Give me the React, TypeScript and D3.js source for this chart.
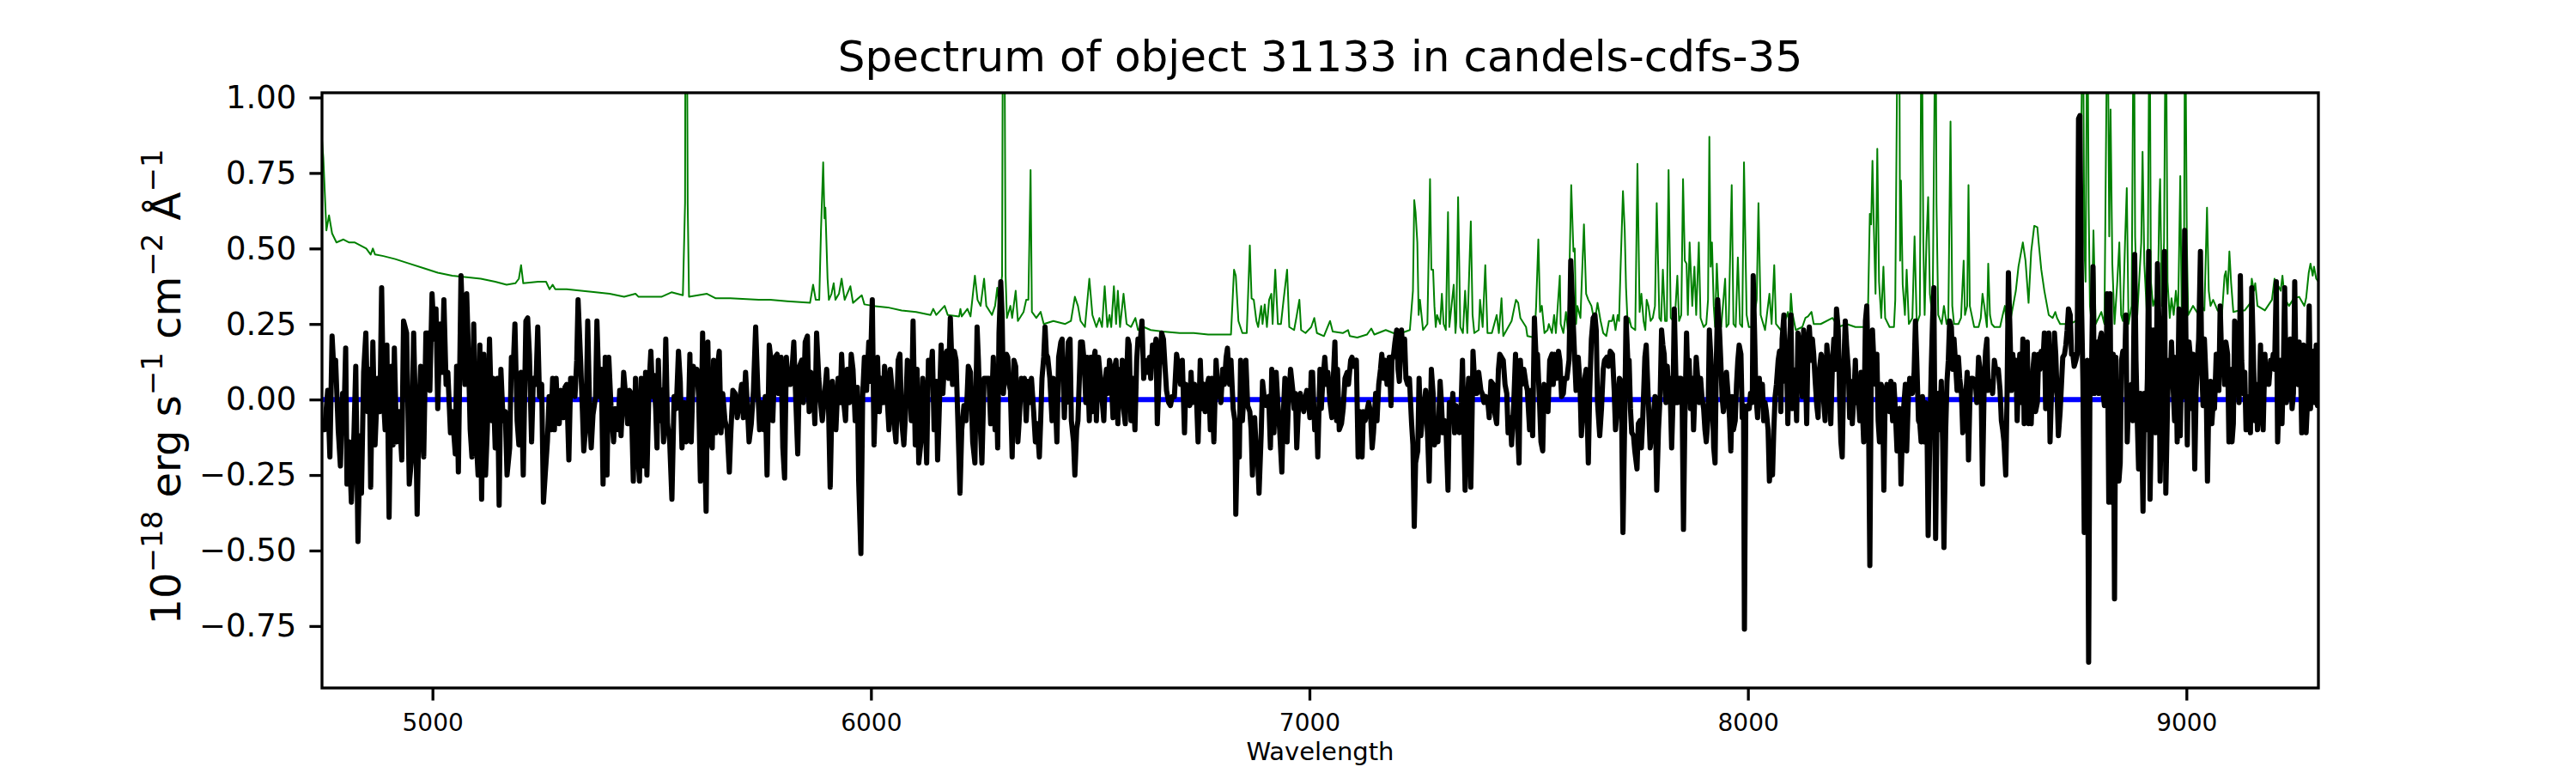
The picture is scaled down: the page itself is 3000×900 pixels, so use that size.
import React, { useEffect, useRef } from "react";
import * as d3 from "d3";

type Pt = [number, number];

const chartTitle = "Spectrum of object 31133 in candels-cdfs-35";
const xLabel = "Wavelength";
const xTicks = [5000, 6000, 7000, 8000, 9000];
const yTicks = [-0.75, -0.5, -0.25, 0, 0.25, 0.5, 0.75, 1.0];
const waveRange: [number, number] = [4748, 9301];
const fluxRange: [number, number] = [-0.955, 1.0156];

// continuum model (blue)
const model: Pt[] = [[4748, 0], [9301, 0]];

// sky / error spectrum (green)
const errorSpec: Pt[] = [
  [4748, 0.86], [4751, 0.8], [4758, 0.56], [4764, 0.61], [4771, 0.55], [4781, 0.52], [4797, 0.53], [4810, 0.52],
  [4823, 0.52], [4836, 0.51], [4849, 0.5], [4859, 0.48], [4864, 0.5], [4869, 0.48], [4888, 0.475], [4915, 0.465],
  [4947, 0.45], [4980, 0.435], [5012, 0.42], [5045, 0.41], [5078, 0.405], [5110, 0.4], [5143, 0.39], [5169, 0.38],
  [5189, 0.385], [5197, 0.4], [5202, 0.445], [5207, 0.385], [5241, 0.39], [5259, 0.39], [5267, 0.365], [5274, 0.38],
  [5280, 0.365], [5306, 0.365], [5339, 0.36], [5372, 0.355], [5404, 0.35], [5437, 0.34], [5463, 0.35], [5470, 0.34],
  [5502, 0.34], [5522, 0.34], [5545, 0.355], [5571, 0.345], [5576, 0.65], [5577, 1.4], [5580, 1.4], [5582, 0.65],
  [5585, 0.34], [5626, 0.35], [5646, 0.335], [5679, 0.335], [5744, 0.33], [5770, 0.33], [5809, 0.325], [5861, 0.32],
  [5868, 0.38], [5874, 0.33], [5882, 0.33], [5886, 0.56], [5891, 0.785], [5894, 0.6], [5896, 0.635], [5901, 0.4],
  [5904, 0.33], [5910, 0.35], [5915, 0.385], [5919, 0.33], [5927, 0.35], [5933, 0.4], [5940, 0.33], [5953, 0.375],
  [5959, 0.32], [5979, 0.345], [5985, 0.315], [6005, 0.31], [6038, 0.305], [6070, 0.295], [6103, 0.29], [6136, 0.28],
  [6142, 0.3], [6149, 0.28], [6168, 0.31], [6175, 0.28], [6201, 0.275], [6204, 0.3], [6207, 0.275], [6220, 0.3],
  [6227, 0.275], [6237, 0.41], [6243, 0.33], [6250, 0.31], [6258, 0.4], [6263, 0.31], [6276, 0.28], [6283, 0.31],
  [6288, 0.37], [6292, 0.31], [6299, 0.41], [6301, 1.4], [6304, 1.4], [6307, 0.41], [6310, 0.27], [6318, 0.31],
  [6322, 0.27], [6330, 0.36], [6335, 0.26], [6348, 0.29], [6354, 0.33], [6359, 0.33], [6364, 0.76], [6367, 0.29],
  [6377, 0.27], [6387, 0.29], [6394, 0.25], [6416, 0.26], [6443, 0.25], [6456, 0.26], [6465, 0.34], [6472, 0.31],
  [6478, 0.26], [6488, 0.24], [6498, 0.4], [6505, 0.28], [6514, 0.24], [6521, 0.27], [6527, 0.24], [6533, 0.375],
  [6539, 0.24], [6544, 0.28], [6548, 0.24], [6554, 0.375], [6559, 0.25], [6563, 0.36], [6568, 0.24], [6576, 0.35],
  [6583, 0.25], [6593, 0.24], [6603, 0.27], [6609, 0.23], [6622, 0.24], [6638, 0.23], [6665, 0.225], [6704, 0.22],
  [6736, 0.22], [6769, 0.215], [6821, 0.215], [6828, 0.43], [6832, 0.41], [6838, 0.26], [6847, 0.22], [6857, 0.22],
  [6864, 0.51], [6868, 0.335], [6873, 0.33], [6879, 0.26], [6883, 0.24], [6890, 0.31], [6893, 0.25], [6898, 0.315],
  [6903, 0.24], [6908, 0.33], [6913, 0.35], [6916, 0.25], [6922, 0.43], [6928, 0.25], [6935, 0.25], [6941, 0.33],
  [6949, 0.43], [6954, 0.24], [6965, 0.23], [6970, 0.27], [6977, 0.33], [6981, 0.23], [6991, 0.22], [7004, 0.24],
  [7011, 0.27], [7017, 0.22], [7033, 0.21], [7047, 0.26], [7053, 0.225], [7076, 0.22], [7088, 0.23], [7092, 0.21],
  [7109, 0.205], [7131, 0.215], [7141, 0.235], [7148, 0.215], [7174, 0.23], [7200, 0.215], [7229, 0.23], [7236, 0.36],
  [7239, 0.66], [7242, 0.62], [7246, 0.52], [7249, 0.28], [7252, 0.33], [7259, 0.23], [7269, 0.25], [7275, 0.73],
  [7278, 0.43], [7282, 0.43], [7285, 0.31], [7288, 0.24], [7291, 0.28], [7298, 0.25], [7302, 0.35], [7306, 0.25],
  [7311, 0.23], [7316, 0.62], [7319, 0.24], [7324, 0.31], [7329, 0.38], [7333, 0.22], [7335, 0.26], [7339, 0.67],
  [7344, 0.24], [7350, 0.22], [7355, 0.36], [7360, 0.22], [7368, 0.59], [7372, 0.28], [7376, 0.22], [7386, 0.23],
  [7389, 0.33], [7395, 0.24], [7401, 0.445], [7406, 0.22], [7416, 0.22], [7427, 0.28], [7432, 0.22], [7438, 0.335],
  [7442, 0.21], [7461, 0.26], [7468, 0.31], [7471, 0.33], [7476, 0.32], [7481, 0.27], [7494, 0.24], [7497, 0.21],
  [7513, 0.205], [7517, 0.31], [7522, 0.53], [7526, 0.29], [7530, 0.31], [7536, 0.22], [7543, 0.23], [7546, 0.25],
  [7553, 0.22], [7558, 0.28], [7562, 0.22], [7571, 0.41], [7573, 0.25], [7579, 0.22], [7585, 0.29], [7590, 0.22],
  [7597, 0.71], [7602, 0.49], [7605, 0.5], [7608, 0.25], [7611, 0.31], [7618, 0.27], [7626, 0.58], [7631, 0.35],
  [7636, 0.33], [7643, 0.31], [7647, 0.28], [7652, 0.27], [7657, 0.32], [7664, 0.26], [7670, 0.22], [7677, 0.21],
  [7683, 0.26], [7690, 0.26], [7693, 0.28], [7698, 0.23], [7703, 0.28], [7706, 0.26], [7709, 0.41], [7715, 0.69],
  [7719, 0.56], [7722, 0.37], [7726, 0.24], [7729, 0.27], [7734, 0.24], [7743, 0.23], [7748, 0.78], [7753, 0.29],
  [7757, 0.35], [7762, 0.26], [7766, 0.23], [7769, 0.33], [7773, 0.31], [7778, 0.26], [7783, 0.27], [7788, 0.31],
  [7792, 0.65], [7798, 0.27], [7802, 0.26], [7806, 0.43], [7811, 0.26], [7815, 0.26], [7819, 0.76], [7824, 0.27],
  [7830, 0.26], [7835, 0.31], [7839, 0.41], [7843, 0.26], [7848, 0.28], [7852, 0.73], [7856, 0.46], [7860, 0.45],
  [7863, 0.28], [7867, 0.52], [7873, 0.31], [7878, 0.44], [7882, 0.28], [7888, 0.52], [7892, 0.27], [7899, 0.24],
  [7905, 0.25], [7909, 0.33], [7912, 0.87], [7915, 0.44], [7918, 0.52], [7922, 0.31], [7925, 0.24], [7929, 0.45],
  [7935, 0.25], [7939, 0.24], [7948, 0.4], [7951, 0.24], [7956, 0.25], [7963, 0.71], [7967, 0.25], [7972, 0.24],
  [7977, 0.47], [7982, 0.25], [7987, 0.24], [7991, 0.785], [7997, 0.28], [8002, 0.24], [8011, 0.24], [8020, 0.33],
  [8024, 0.65], [8029, 0.28], [8039, 0.23], [8049, 0.35], [8054, 0.25], [8060, 0.445], [8064, 0.25], [8075, 0.23],
  [8087, 0.27], [8091, 0.29], [8095, 0.24], [8098, 0.35], [8101, 0.29], [8109, 0.23], [8124, 0.24], [8131, 0.27],
  [8137, 0.275], [8145, 0.29], [8150, 0.25], [8166, 0.25], [8193, 0.27], [8206, 0.24], [8225, 0.25], [8245, 0.24],
  [8268, 0.24], [8274, 0.31], [8278, 0.615], [8281, 0.58], [8284, 0.79], [8287, 0.58], [8291, 0.35], [8295, 0.83],
  [8299, 0.39], [8304, 0.27], [8309, 0.44], [8313, 0.27], [8323, 0.24], [8333, 0.24], [8336, 0.33], [8342, 1.4],
  [8345, 1.4], [8347, 0.46], [8349, 0.725], [8353, 0.38], [8358, 0.28], [8362, 0.43], [8367, 0.25], [8375, 0.27],
  [8380, 0.54], [8385, 0.25], [8392, 0.28], [8396, 1.4], [8400, 0.52], [8403, 0.28], [8407, 0.52], [8411, 0.67],
  [8415, 0.35], [8421, 0.27], [8428, 1.4], [8430, 0.65], [8434, 0.28], [8442, 0.25], [8447, 0.31], [8453, 0.25],
  [8457, 0.27], [8462, 0.92], [8466, 0.31], [8470, 0.25], [8480, 0.25], [8486, 0.27], [8492, 0.46], [8495, 0.28],
  [8500, 0.31], [8503, 0.71], [8506, 0.31], [8516, 0.24], [8526, 0.24], [8531, 0.27], [8535, 0.35], [8539, 0.31],
  [8545, 0.24], [8548, 0.45], [8552, 0.28], [8556, 0.25], [8562, 0.24], [8575, 0.24], [8581, 0.28], [8586, 0.31],
  [8590, 0.25], [8597, 0.25], [8611, 0.36], [8617, 0.44], [8627, 0.52], [8633, 0.46], [8640, 0.32], [8646, 0.49],
  [8653, 0.575], [8660, 0.57], [8663, 0.52], [8669, 0.43], [8676, 0.36], [8686, 0.28], [8695, 0.27], [8701, 0.29],
  [8705, 0.27], [8712, 0.25], [8735, 0.25], [8748, 0.26], [8754, 0.3], [8759, 0.71], [8764, 1.4], [8767, 0.52],
  [8770, 0.39], [8774, 1.4], [8777, 0.65], [8780, 0.31], [8784, 0.25], [8788, 0.56], [8793, 0.25], [8806, 0.29],
  [8813, 0.25], [8820, 1.4], [8824, 0.54], [8827, 0.96], [8831, 0.45], [8836, 0.25], [8842, 0.38], [8847, 0.52],
  [8851, 0.28], [8855, 0.26], [8860, 0.52], [8864, 0.7], [8868, 0.25], [8875, 0.31], [8880, 1.4], [8883, 0.54],
  [8888, 0.28], [8897, 0.52], [8900, 0.82], [8904, 0.45], [8911, 0.25], [8916, 1.4], [8919, 0.39], [8924, 0.31],
  [8929, 0.335], [8934, 0.25], [8938, 0.64], [8940, 0.73], [8944, 0.31], [8949, 0.52], [8953, 1.4], [8957, 0.39],
  [8962, 0.27], [8966, 0.335], [8971, 0.28], [8976, 0.36], [8981, 0.28], [8986, 0.74], [8989, 0.31], [8994, 0.25],
  [8997, 1.4], [9001, 0.52], [9004, 0.28], [9015, 0.31], [9028, 0.28], [9035, 0.31], [9041, 0.295], [9047, 0.635],
  [9051, 0.36], [9055, 0.31], [9061, 0.33], [9071, 0.295], [9081, 0.28], [9087, 0.41], [9090, 0.425], [9094, 0.35],
  [9098, 0.49], [9102, 0.385], [9107, 0.29], [9120, 0.295], [9133, 0.295], [9146, 0.32], [9149, 0.4], [9154, 0.36],
  [9157, 0.385], [9162, 0.31], [9179, 0.295], [9195, 0.33], [9201, 0.4], [9205, 0.345], [9210, 0.375], [9215, 0.36],
  [9219, 0.41], [9224, 0.335], [9234, 0.31], [9245, 0.335], [9257, 0.34], [9269, 0.31], [9273, 0.335], [9279, 0.42],
  [9283, 0.45], [9288, 0.41], [9291, 0.44], [9296, 0.4], [9301, 0.39],
];

// observed flux (black)
const spectrum: Pt[] = [
  [4748, -0.1], [4754, -0.1], [4761, 0.03], [4766, -0.19], [4771, 0.21], [4776, 0.07], [4779, 0.13], [4785, -0.1],
  [4790, -0.22], [4795, 0.02], [4798, -0.07], [4802, 0.17], [4805, -0.28], [4810, -0.14], [4815, -0.34], [4821, -0.11],
  [4825, 0.11], [4830, -0.47], [4835, -0.12], [4838, -0.31], [4843, 0.09], [4848, 0.22], [4852, -0.04], [4856, 0.1],
  [4859, -0.29], [4864, 0.19], [4869, -0.15], [4875, 0.07], [4880, -0.04], [4884, 0.37], [4888, 0.01], [4892, -0.1],
  [4896, 0.18], [4901, -0.39], [4906, 0.11], [4910, -0.15], [4913, 0.17], [4918, -0.14], [4924, -0.04], [4930, -0.2],
  [4934, 0.26], [4941, 0.22], [4947, -0.28], [4952, -0.2], [4957, 0.22], [4962, -0.1], [4965, -0.38], [4970, -0.01],
  [4973, 0.11], [4980, -0.19], [4985, 0.22], [4990, 0.22], [4994, 0.03], [4999, 0.35], [5004, 0.2], [5008, 0.3],
  [5012, -0.03], [5017, 0.25], [5022, 0.09], [5026, 0.33], [5031, 0.05], [5035, 0.09], [5041, -0.11], [5045, -0.04],
  [5052, -0.18], [5055, 0.11], [5059, -0.24], [5065, 0.41], [5069, 0.24], [5074, 0.05], [5078, 0.35], [5081, 0.2],
  [5086, -0.1], [5090, -0.19], [5094, 0.25], [5099, -0.11], [5104, -0.25], [5108, 0.18], [5112, -0.33], [5117, 0.15],
  [5121, -0.25], [5125, -0.1], [5130, 0.2], [5135, -0.07], [5138, 0.07], [5143, -0.16], [5148, 0.07], [5152, -0.35],
  [5156, 0.1], [5161, -0.07], [5166, -0.04], [5170, -0.25], [5176, -0.16], [5180, 0.14], [5184, 0.1], [5188, 0.25],
  [5193, -0.07], [5197, -0.15], [5202, 0.09], [5207, -0.25], [5213, 0.26], [5217, 0.27], [5221, 0.15], [5226, -0.14],
  [5230, 0.07], [5236, 0.05], [5240, 0.24], [5244, 0.01], [5249, 0.05], [5253, -0.34], [5257, -0.25], [5262, -0.14],
  [5266, 0.01], [5270, -0.1], [5274, 0.07], [5278, -0.1], [5282, 0.07], [5285, -0.03], [5289, -0.08], [5293, 0.03],
  [5298, -0.06], [5302, 0.04], [5306, 0.05], [5311, -0.2], [5315, 0.07], [5319, 0.07], [5325, 0.01], [5329, 0.13],
  [5332, 0.33], [5338, 0.12], [5342, -0.04], [5345, -0.17], [5350, -0.08], [5354, 0.26], [5359, -0.08], [5362, -0.16],
  [5366, -0.05], [5372, 0.01], [5375, 0.26], [5380, 0.01], [5385, 0.1], [5389, -0.28], [5394, 0.14], [5398, -0.25],
  [5402, 0.14], [5407, -0.02], [5413, -0.14], [5417, -0.03], [5423, -0.1], [5427, 0.03], [5430, -0.12], [5436, 0.09],
  [5440, 0.02], [5445, -0.08], [5449, 0.03], [5453, 0.02], [5458, -0.27], [5463, 0.07], [5468, -0.17], [5472, -0.27],
  [5476, 0.07], [5481, -0.22], [5486, 0.09], [5489, -0.25], [5494, 0.05], [5498, 0.16],
  [5502, 0.01], [5505, 0.08], [5509, -0.03], [5512, -0.16], [5515, 0.13], [5519, -0.07], [5523, 0.03], [5527, -0.14],
  [5532, 0.2], [5536, -0.08], [5541, -0.14], [5546, -0.33], [5551, 0.01], [5556, -0.03], [5561, 0.16], [5565, 0.06],
  [5569, -0.16], [5574, -0.01], [5579, -0.14], [5583, -0.1], [5587, 0.15], [5590, -0.14], [5595, 0.11], [5599, 0.07],
  [5603, 0.1], [5607, 0.01], [5611, -0.27], [5616, 0.22], [5620, -0.1], [5624, -0.37], [5628, 0.19], [5632, -0.15],
  [5634, -0.08], [5638, -0.16], [5641, 0.13], [5646, -0.11], [5650, 0.11], [5654, 0.16], [5658, -0.11], [5662, 0.02],
  [5667, -0.07], [5672, -0.1], [5677, -0.24], [5680, -0.12], [5685, 0.03], [5690, 0.02], [5695, -0.06], [5700, -0.01],
  [5705, 0.05], [5709, -0.06], [5714, 0.09], [5718, -0.02], [5722, -0.14], [5727, -0.08], [5732, 0.03], [5737, 0.24],
  [5742, 0.03], [5746, -0.1], [5750, -0.01], [5755, -0.1], [5759, 0.01], [5763, -0.25], [5768, 0.18], [5772, 0.13],
  [5776, -0.07], [5781, 0.14], [5786, 0.15], [5789, 0.02], [5795, 0.14], [5799, -0.16], [5803, -0.26], [5807, 0.14],
  [5811, 0.05], [5816, 0.05], [5820, 0.1], [5824, 0.19], [5829, -0.02], [5833, -0.18], [5837, 0.11], [5842, 0.13],
  [5846, -0.01], [5850, 0.19], [5855, 0.21], [5859, -0.04], [5863, 0.09], [5868, 0.05], [5872, -0.08], [5876, 0.22],
  [5881, 0.07], [5885, -0.01], [5889, -0.07], [5894, 0.01], [5899, 0.1], [5903, -0.01], [5907, -0.29], [5912, 0.06],
  [5916, -0.04], [5920, -0.1], [5925, 0.07], [5930, -0.01], [5933, 0.15], [5938, -0.01], [5942, -0.07], [5946, 0.1],
  [5951, -0.01], [5955, 0.15], [5959, 0.1], [5964, -0.07], [5969, 0.04], [5972, -0.27], [5977, -0.51], [5981, 0.01],
  [5985, 0.14], [5990, 0.03], [5995, 0.19], [5998, 0.06], [6003, 0.33], [6007, -0.15], [6012, 0.1], [6015, 0.14],
  [6019, -0.04], [6023, 0.07], [6028, -0.01], [6031, 0.11], [6036, 0.03], [6041, -0.1], [6044, 0.1], [6049, 0.02],
  [6053, -0.08], [6057, -0.14], [6062, 0.13], [6066, 0.15], [6070, -0.07], [6075, -0.15], [6079, -0.04], [6083, 0.13],
  [6088, 0.11], [6092, -0.07], [6096, 0.26], [6101, -0.15], [6105, 0.1], [6109, -0.21], [6114, -0.14], [6118, 0.07],
  [6123, -0.02], [6127, -0.21], [6131, 0.13], [6136, 0.09], [6140, 0.16], [6144, -0.1], [6149, 0.06], [6152, -0.2],
  [6155, -0.07], [6160, 0.18], [6164, 0.02], [6168, 0.14], [6173, 0.16], [6177, 0.07], [6181, 0.27], [6186, 0.05],
  [6190, 0.16], [6194, 0.13], [6199, -0.11], [6203, -0.31], [6207, -0.1], [6212, -0.02], [6217, -0.07], [6222, 0.11],
  [6227, 0.09], [6232, -0.14], [6237, -0.21], [6242, 0.24], [6245, 0.13], [6250, -0.11], [6253, -0.21], [6258, 0.07],
  [6265, 0.07], [6269, 0.07], [6273, -0.08], [6276, 0.01], [6279, 0.14], [6283, -0.1], [6286, 0.03], [6289, -0.16],
  [6292, 0.22], [6296, 0.39], [6299, 0.28], [6302, 0.02], [6305, 0.1], [6309, 0.15], [6312, 0.14], [6315, 0.05],
  [6318, 0.03], [6322, -0.19], [6326, 0.13], [6330, 0.11], [6335, -0.14], [6338, -0.07], [6343, 0.07], [6347, 0.05],
  [6350, 0.07], [6354, -0.07], [6358, 0.06], [6362, -0.01], [6366, 0.07], [6371, -0.04], [6375, -0.14], [6379, -0.08],
  [6384, -0.19], [6387, -0.07], [6390, 0.07], [6394, 0.14], [6397, 0.24], [6400, 0.15], [6403, 0.14], [6408, 0.07],
  [6413, -0.07], [6416, 0.07], [6420, 0.02], [6424, -0.14], [6428, 0.14], [6433, 0.19], [6436, 0.2], [6441, -0.06],
  [6443, 0.02], [6446, -0.01], [6450, 0.19], [6454, 0.2], [6457, -0.07], [6462, -0.14], [6465, -0.25], [6469, -0.1],
  [6472, -0.07], [6475, 0.06], [6478, 0.19], [6482, 0.19], [6486, 0.13], [6490, -0.01], [6493, 0.14], [6498, -0.07],
  [6501, 0.14], [6505, -0.04], [6508, 0.13], [6511, 0.16], [6514, -0.07], [6519, 0.14], [6522, 0.09], [6526, 0.02],
  [6531, -0.07], [6534, 0.06], [6537, 0.1], [6540, 0.02], [6544, 0.13], [6547, 0.1], [6552, -0.06], [6555, 0.1],
  [6559, 0.13], [6563, -0.08], [6567, 0.1], [6570, -0.01], [6573, 0.13], [6576, -0.03], [6580, -0.08], [6583, 0.07],
  [6586, 0.2], [6589, 0.18], [6593, -0.07], [6597, 0.07], [6602, -0.1], [6606, 0.13], [6609, 0.2], [6614, 0.19],
  [6618, 0.26], [6622, 0.07], [6625, 0.13], [6630, 0.09], [6635, 0.14], [6638, 0.07], [6642, 0.18], [6646, 0.15],
  [6650, 0.2], [6653, -0.08], [6658, 0.11], [6663, 0.22], [6667, 0.2], [6671, 0.1], [6674, 0.03], [6679, -0.01],
  [6683, -0.02], [6687, 0.01], [6692, 0.01], [6697, 0.15], [6702, 0.1], [6706, 0.05], [6710, 0.13], [6715, -0.11],
  [6718, 0.05], [6721, 0.01], [6727, -0.02], [6730, 0.09], [6733, -0.01], [6738, 0.05], [6743, -0.02], [6746, -0.14],
  [6751, 0.13], [6755, -0.03], [6759, 0.05], [6762, -0.04], [6767, 0.05], [6770, 0.07], [6774, -0.1], [6777, 0.07],
  [6782, -0.14], [6787, 0.13], [6792, 0.01], [6795, 0.05], [6798, -0.01], [6802, 0.1], [6806, 0.05], [6810, 0.14],
  [6813, 0.17], [6818, 0.05], [6821, 0.13], [6826, -0.03], [6830, -0.07], [6832, -0.38], [6836, -0.1], [6840, -0.19],
  [6843, 0.13], [6847, -0.07], [6852, 0.05], [6855, 0.13], [6859, -0.02], [6864, -0.04], [6867, -0.1], [6870, -0.25],
  [6875, -0.06], [6878, -0.15], [6882, -0.2], [6885, -0.31], [6890, -0.11], [6893, 0.06], [6898, -0.01], [6901, -0.02],
  [6904, -0.02], [6907, 0.01], [6911, -0.16], [6914, 0.1], [6919, -0.11], [6924, 0.09], [6929, -0.04], [6932, -0.1],
  [6937, -0.24], [6940, -0.06], [6944, 0.07], [6949, -0.14], [6952, -0.01], [6957, 0.1], [6962, 0.03], [6965, -0.03],
  [6968, 0.02], [6971, -0.16], [6976, 0.01], [6979, 0.02], [6983, -0.01], [6987, -0.04], [6991, 0.01], [6994, 0.03],
  [6998, -0.01], [7001, -0.06], [7004, 0.09], [7007, 0.09], [7012, -0.1], [7016, -0.04], [7019, -0.19], [7024, 0.1],
  [7027, -0.03], [7030, 0.05], [7035, 0.14], [7039, 0.05], [7042, 0.09], [7047, -0.01], [7051, -0.06], [7055, 0.09],
  [7058, 0.19], [7062, -0.07], [7064, 0.1], [7068, -0.1], [7073, -0.08], [7077, -0.03], [7081, 0.07], [7086, 0.09],
  [7089, 0.05], [7094, 0.13], [7097, 0.14], [7102, 0.11], [7107, 0.13], [7111, -0.19], [7115, -0.04], [7120, -0.19],
  [7123, -0.04], [7127, -0.07], [7131, -0.04], [7135, -0.01], [7139, -0.04], [7143, -0.16], [7146, -0.11], [7151, 0.02],
  [7154, -0.07], [7158, 0.05], [7162, 0.1], [7165, 0.15], [7169, 0.07], [7173, 0.13], [7177, 0.05], [7182, 0.14],
  [7186, -0.02], [7188, 0.13], [7192, 0.15], [7195, 0.19], [7199, 0.23], [7202, 0.1], [7205, 0.06], [7210, 0.23],
  [7213, 0.14], [7217, 0.2], [7220, 0.07], [7224, 0.05], [7228, 0.07], [7233, -0.08], [7236, -0.15], [7239, -0.42],
  [7242, -0.21], [7247, -0.17], [7250, 0.07], [7254, -0.12], [7257, -0.07], [7262, -0.01], [7265, 0.03], [7270, -0.14],
  [7273, -0.27], [7278, 0.1], [7282, 0.02], [7285, -0.15], [7288, -0.1], [7293, -0.14], [7298, 0.06], [7301, -0.01],
  [7304, -0.11], [7308, -0.07], [7311, -0.08], [7316, -0.3], [7319, -0.01], [7323, -0.06], [7327, 0.02], [7331, -0.11],
  [7334, -0.02], [7338, -0.06], [7342, -0.11], [7346, -0.01], [7349, 0.13], [7351, -0.02], [7355, -0.3], [7359, -0.04],
  [7363, 0.07], [7368, -0.29], [7371, -0.04], [7373, 0.16], [7378, 0.02], [7382, 0.02], [7386, 0.09], [7391, 0.03],
  [7394, 0.02], [7398, -0.01], [7402, 0.01], [7407, -0.01], [7410, -0.06], [7414, 0.06], [7419, 0.05], [7422, -0.04],
  [7427, -0.08], [7431, 0.1], [7434, 0.15], [7438, 0.14], [7442, 0.13], [7446, 0.05], [7450, 0.02], [7453, -0.11],
  [7458, -0.06], [7461, -0.15], [7466, -0.01], [7470, 0.15], [7474, -0.07], [7478, -0.21], [7481, 0.13], [7484, 0.05],
  [7489, 0.1], [7494, 0.05], [7497, 0.03], [7502, -0.1], [7505, 0.03], [7509, -0.12], [7513, 0.27], [7517, 0.13],
  [7520, 0.15], [7525, -0.02], [7528, -0.14], [7532, -0.17], [7535, 0.05], [7540, 0.03], [7544, -0.04], [7548, 0.13],
  [7553, 0.15], [7556, 0.05], [7559, 0.15], [7564, 0.07], [7568, 0.16], [7571, 0.13], [7575, 0.01], [7579, 0.02],
  [7582, 0.07], [7587, 0.07], [7592, 0.13], [7596, 0.46], [7600, 0.31], [7605, 0.13], [7608, 0.03], [7613, 0.14],
  [7617, 0.05], [7620, -0.12], [7624, -0.03], [7628, 0.07], [7631, 0.1], [7636, -0.21], [7639, 0.02], [7643, 0.2],
  [7647, 0.27], [7651, 0.28], [7654, 0.23], [7657, -0.01], [7662, -0.12], [7666, -0.03], [7670, 0.1], [7673, 0.13],
  [7678, 0.14], [7682, 0.11], [7686, 0.16], [7691, 0.15], [7695, 0.03], [7698, -0.1], [7703, -0.01], [7707, 0.07],
  [7711, 0.06], [7715, -0.44], [7719, -0.06], [7722, 0.27], [7726, 0.13], [7729, 0.13], [7732, -0.03], [7735, -0.11],
  [7739, -0.12], [7742, -0.17], [7747, -0.23], [7750, -0.08], [7754, -0.07], [7757, -0.16], [7760, -0.07], [7765, 0.14],
  [7768, 0.18], [7773, -0.01], [7777, -0.16], [7781, -0.11], [7784, -0.06], [7788, 0.01],
  [7792, -0.3], [7796, -0.1], [7800, 0.02], [7803, 0.23], [7806, 0.18], [7809, 0.15], [7813, -0.01], [7816, 0.11],
  [7819, 0.03], [7822, 0.07], [7826, -0.16], [7829, -0.01], [7832, 0.3], [7837, -0.01], [7840, -0.01], [7843, 0.07],
  [7847, 0.07], [7850, -0.01], [7853, -0.43], [7856, -0.08], [7860, 0.22], [7863, 0.06], [7866, 0.13], [7869, -0.03],
  [7873, 0.07], [7876, -0.1], [7879, 0.02], [7882, 0.14], [7886, 0.06], [7889, -0.01], [7892, 0.07], [7895, 0.01],
  [7899, -0.03], [7902, -0.1], [7905, -0.14], [7909, -0.06], [7912, 0.23], [7915, 0.15], [7918, 0.05], [7922, -0.16],
  [7925, -0.21], [7928, 0.13], [7931, 0.33], [7935, 0.23], [7938, 0.13], [7941, 0.01], [7944, -0.04], [7948, 0.02],
  [7951, 0.09], [7954, 0.03], [7958, -0.06], [7961, -0.17], [7964, 0.01], [7967, -0.1], [7971, -0.07], [7974, 0.05],
  [7977, 0.13], [7980, 0.18], [7984, 0.15], [7987, -0.06], [7990, -0.02], [7992, -0.76], [7995, -0.04], [8000, -0.02],
  [8003, -0.03], [8006, 0.02], [8010, -0.01], [8012, 0.41], [8015, 0.23], [8018, 0.02], [8022, -0.06], [8026, 0.07],
  [8029, -0.01], [8033, 0.05], [8036, -0.07], [8039, -0.01], [8042, -0.04], [8046, -0.1], [8049, -0.27], [8052, -0.2],
  [8056, -0.25], [8059, -0.1], [8062, 0.01], [8065, 0.05], [8069, 0.13], [8072, 0.16], [8075, -0.04], [8078, 0.2],
  [8082, 0.28], [8085, 0.06], [8088, 0.13], [8091, -0.08], [8095, 0.2], [8098, 0.28], [8101, -0.03], [8104, 0.1],
  [8108, 0.07], [8111, -0.07], [8114, 0.22], [8118, 0.18], [8121, 0.14], [8124, 0.01], [8127, 0.23], [8131, 0.11],
  [8134, -0.08], [8137, 0.18], [8140, 0.24], [8144, 0.13], [8147, 0.2], [8150, 0.15], [8153, 0.07], [8157, -0.02],
  [8160, -0.06], [8163, 0.1], [8167, 0.15], [8170, 0.13], [8173, -0.01], [8176, -0.07], [8180, 0.18], [8183, 0.13],
  [8186, 0.05], [8189, -0.08], [8193, 0.13], [8196, 0.2], [8199, 0.1], [8202, 0.3], [8206, 0.23], [8209, 0.01],
  [8212, -0.14], [8215, -0.19], [8219, 0.13], [8222, 0.26], [8225, 0.18], [8229, 0.1], [8232, -0.06], [8235, 0.06],
  [8238, -0.08], [8242, 0.02], [8245, 0.13], [8248, -0.01], [8251, 0.03], [8255, -0.07], [8258, 0.09], [8261, -0.03],
  [8264, -0.14], [8268, 0.26], [8271, 0.31], [8274, 0.13], [8278, -0.55], [8281, 0.05], [8284, 0.23], [8287, 0.13],
  [8291, 0.05], [8294, 0.15], [8297, -0.07], [8300, -0.14], [8304, 0.05], [8307, 0.02], [8310, -0.3], [8313, 0.02],
  [8317, 0.05], [8320, 0.01], [8323, -0.04], [8326, 0.06], [8330, -0.07], [8333, 0.05], [8336, -0.03], [8340, -0.17],
  [8343, -0.04], [8346, -0.03], [8349, -0.28], [8353, -0.07], [8356, -0.01], [8359, 0.05], [8362, -0.17], [8366, 0.01],
  [8369, 0.07], [8372, 0.03], [8375, 0.02], [8379, 0.09], [8382, 0.26], [8385, 0.13], [8389, -0.07], [8392, -0.08],
  [8395, -0.14], [8398, 0.01], [8402, -0.14], [8405, -0.01], [8408, -0.03], [8411, -0.45], [8415, -0.1], [8418, 0.1],
  [8421, 0.26], [8424, 0.37], [8428, -0.46], [8431, -0.07], [8434, 0.02], [8437, -0.1], [8441, 0.06], [8444, -0.14],
  [8447, -0.49], [8451, -0.1], [8454, 0.06], [8457, 0.13], [8460, 0.26], [8464, 0.24], [8467, 0.1], [8470, 0.2],
  [8473, 0.13], [8477, 0.03], [8480, 0.14], [8483, 0.07], [8487, 0.02], [8490, -0.11], [8493, -0.08], [8496, -0.01],
  [8500, 0.09], [8503, -0.2], [8506, -0.01], [8509, 0.07], [8513, 0.07], [8516, 0.06], [8519, 0.05], [8522, -0.01],
  [8526, 0.14], [8529, 0.1], [8532, 0.02], [8535, -0.28], [8539, 0.07], [8542, 0.16], [8545, 0.2], [8548, 0.03],
  [8552, 0.05], [8555, 0.06], [8558, 0.02], [8562, 0.13], [8565, 0.1], [8568, 0.09], [8571, 0.1], [8575, 0.03],
  [8578, -0.07], [8581, -0.1], [8584, -0.14], [8588, -0.25], [8591, 0.02], [8594, 0.42], [8597, 0.26], [8601, 0.03],
  [8604, 0.15], [8607, 0.1], [8611, 0.13], [8614, -0.07], [8617, 0.06], [8620, 0.15], [8624, -0.01], [8627, 0.2],
  [8630, -0.08], [8633, 0.13], [8637, 0.19], [8640, -0.08], [8643, -0.02], [8646, -0.08], [8650, 0.1], [8653, 0.15],
  [8656, -0.04], [8660, -0.01], [8663, 0.15], [8666, 0.1], [8669, 0.16], [8673, 0.13], [8676, 0.22], [8679, -0.03],
  [8682, 0.07], [8686, 0.22], [8689, -0.14], [8692, 0.01], [8695, 0.05], [8699, 0.22], [8702, 0.15], [8705, 0.02],
  [8708, -0.12], [8712, -0.04], [8715, 0.05], [8718, 0.14], [8722, 0.15], [8725, 0.18], [8728, 0.23], [8731, 0.3],
  [8735, 0.28], [8738, 0.15], [8741, 0.15], [8744, 0.11], [8748, 0.13], [8751, 0.15], [8754, 0.93], [8757, 0.94],
  [8761, 0.3], [8764, 0.06], [8767, -0.44], [8770, 0.09], [8774, 0.13], [8777, -0.87], [8780, 0.07], [8784, 0.13],
  [8787, 0.44], [8790, 0.02], [8793, 0.18], [8797, 0.19], [8800, 0.02], [8803, 0.2], [8806, 0.22], [8810, 0.02],
  [8813, -0.02], [8816, -0.01], [8819, 0.35], [8823, -0.34], [8826, 0.35], [8829, -0.34], [8833, 0.15], [8836, -0.66],
  [8839, 0.14], [8842, -0.21], [8846, -0.27], [8849, -0.21], [8852, 0.13], [8855, 0.16], [8859, 0.1], [8862, 0.28],
  [8865, -0.14], [8868, -0.01], [8872, -0.03], [8875, 0.05], [8878, -0.07], [8882, 0.48], [8885, 0.13], [8888, -0.07],
  [8891, -0.23], [8895, 0.02], [8898, -0.11], [8901, -0.37], [8904, 0.02], [8908, -0.1], [8911, 0.07], [8914, 0.49],
  [8917, -0.33], [8921, -0.01], [8924, 0.23], [8927, 0.05], [8930, -0.11], [8934, 0.45], [8937, 0.27], [8940, -0.27],
  [8944, 0.05], [8947, -0.01], [8950, 0.49], [8953, -0.31], [8957, -0.01], [8960, 0.13], [8963, 0.05], [8966, 0.19],
  [8970, 0.03], [8973, -0.07], [8976, 0.14], [8979, -0.14], [8983, 0.3], [8986, -0.12], [8989, 0.13], [8993, 0.01],
  [8996, 0.56], [8999, 0.19], [9002, -0.15], [9006, 0.19], [9009, 0.14], [9012, -0.03], [9015, 0.15], [9019, -0.23],
  [9022, 0.02], [9025, 0.13], [9028, 0.2], [9032, 0.49], [9035, 0.1], [9038, -0.02], [9041, 0.2], [9045, 0.06],
  [9048, -0.27], [9051, -0.01], [9055, 0.06], [9058, -0.08], [9061, -0.01], [9064, -0.03], [9068, 0.15], [9071, 0.1],
  [9074, 0.03], [9077, 0.31], [9081, 0.1], [9084, 0.15], [9087, 0.05], [9090, 0.19], [9094, 0.15], [9097, -0.14],
  [9100, 0.1], [9104, -0.14], [9107, -0.08], [9110, 0.26], [9113, 0.23], [9117, 0.13], [9120, -0.01], [9123, 0.41],
  [9126, 0.13], [9130, 0.02], [9133, 0.09], [9136, -0.1], [9139, 0.01], [9143, -0.01], [9146, -0.11], [9149, 0.37],
  [9153, 0.13], [9156, -0.07], [9159, 0.05], [9162, -0.1], [9166, -0.01], [9169, 0.18], [9172, -0.01], [9175, -0.1],
  [9179, 0.15], [9182, 0.05], [9185, 0.07], [9188, 0.05], [9192, 0.13], [9195, 0.11], [9198, 0.15], [9201, 0.1],
  [9205, 0.39], [9208, -0.14], [9211, -0.01], [9214, 0.13], [9218, -0.08], [9221, 0.09], [9224, 0.37], [9228, -0.01],
  [9231, 0.03], [9234, 0.13], [9237, 0.2], [9241, -0.03], [9244, 0.02], [9247, 0.39], [9250, 0.06], [9254, 0.05],
  [9257, 0.19], [9260, 0.13], [9263, -0.11], [9267, 0.18], [9270, -0.08], [9273, -0.11], [9276, -0.01], [9280, 0.31],
  [9283, -0.03], [9286, 0.15], [9290, 0.16], [9293, -0.01], [9296, 0.18], [9299, -0.02], [9301, 0.16],
];

const SpectrumChart: React.FC = () => {
  const svgRef = useRef<SVGSVGElement>(null);

  useEffect(() => {
    if (!svgRef.current) return;

    const width = 3000;
    const height = 900;
    const margin = { top: 108, right: 300, bottom: 99, left: 375 };
    const font = "DejaVu Sans, sans-serif";

    const x = d3
      .scaleLinear()
      .domain(waveRange)
      .range([margin.left, width - margin.right]);
    const y = d3
      .scaleLinear()
      .domain(fluxRange)
      .range([height - margin.bottom, margin.top]);

    const line = d3
      .line<Pt>()
      .x((d) => x(d[0]))
      .y((d) => y(d[1]));

    const svg = d3.select(svgRef.current).attr("width", width).attr("height", height);
    svg.selectAll("*").remove();

    svg.append("rect").attr("width", width).attr("height", height).attr("fill", "#fff");

    svg
      .append("clipPath")
      .attr("id", "plot-clip")
      .append("rect")
      .attr("x", margin.left)
      .attr("y", margin.top)
      .attr("width", width - margin.left - margin.right)
      .attr("height", height - margin.top - margin.bottom);

    const plot = svg.append("g").attr("clip-path", "url(#plot-clip)");

    plot
      .append("path")
      .datum(errorSpec)
      .attr("fill", "none")
      .attr("stroke", "#008000")
      .attr("stroke-width", 2)
      .attr("stroke-linejoin", "round")
      .attr("d", line);

    plot
      .append("path")
      .datum(model)
      .attr("fill", "none")
      .attr("stroke", "#0000ff")
      .attr("stroke-width", 6)
      .attr("d", line);

    plot
      .append("path")
      .datum(spectrum)
      .attr("fill", "none")
      .attr("stroke", "#000")
      .attr("stroke-width", 6)
      .attr("stroke-linejoin", "round")
      .attr("d", line);

    // axes
    const xAxis = svg
      .append("g")
      .attr("transform", `translate(0,${height - margin.bottom})`)
      .call(
        d3
          .axisBottom(x)
          .tickValues(xTicks)
          .tickSize(14.6)
          .tickPadding(16)
          .tickFormat(d3.format("d"))
      );
    xAxis.select(".domain").remove();
    xAxis.selectAll("line").attr("stroke", "#000").attr("stroke-width", 3.3);
    xAxis
      .selectAll("text")
      .attr("fill", "#000")
      .style("font-family", font)
      .style("font-size", "28px");

    const yAxis = svg
      .append("g")
      .attr("transform", `translate(${margin.left},0)`)
      .call(
        d3
          .axisLeft(y)
          .tickValues(yTicks)
          .tickSize(14.6)
          .tickPadding(15)
          .tickFormat(d3.format(".2f"))
      );
    yAxis.select(".domain").remove();
    yAxis.selectAll("line").attr("stroke", "#000").attr("stroke-width", 3.3);
    yAxis
      .selectAll("text")
      .attr("fill", "#000")
      .style("font-family", font)
      .style("font-size", "37px");

    // frame
    svg
      .append("rect")
      .attr("x", margin.left)
      .attr("y", margin.top)
      .attr("width", width - margin.left - margin.right)
      .attr("height", height - margin.top - margin.bottom)
      .attr("fill", "none")
      .attr("stroke", "#000")
      .attr("stroke-width", 3.3);

    // title
    svg
      .append("text")
      .attr("x", (margin.left + width - margin.right) / 2)
      .attr("y", 83)
      .attr("text-anchor", "middle")
      .style("font-family", font)
      .style("font-size", "50px")
      .text(chartTitle);

    // x label
    svg
      .append("text")
      .attr("x", (margin.left + width - margin.right) / 2)
      .attr("y", 885)
      .attr("text-anchor", "middle")
      .style("font-family", font)
      .style("font-size", "29px")
      .text(xLabel);

    // y label: 10^-18 erg s^-1 cm^-2 Å^-1
    const yl = svg
      .append("text")
      .attr("transform", `translate(210,${(margin.top + height - margin.bottom) / 2 - 4}) rotate(-90)`)
      .attr("text-anchor", "middle")
      .style("font-family", font)
      .style("font-size", "48px");
    const parts: [string, boolean][] = [
      ["10", false],
      ["\u221218", true],
      [" erg s", false],
      ["\u22121", true],
      [" cm", false],
      ["\u22122", true],
      [" \u00c5", false],
      ["\u22121", true],
    ];
    let raised = false;
    parts.forEach(([t, sup]) => {
      const ts = yl.append("tspan").text(t);
      if (sup) {
        ts.style("font-size", "34px").attr("dy", raised ? 0 : -21);
        raised = true;
      } else {
        ts.attr("dy", raised ? 21 : 0);
        raised = false;
      }
    });
  }, []);

  return (
    <div style={{ position: "absolute", left: 0, top: 0 }}>
      <svg ref={svgRef}></svg>
    </div>
  );
};

export default function App() {
  return <SpectrumChart />;
}
